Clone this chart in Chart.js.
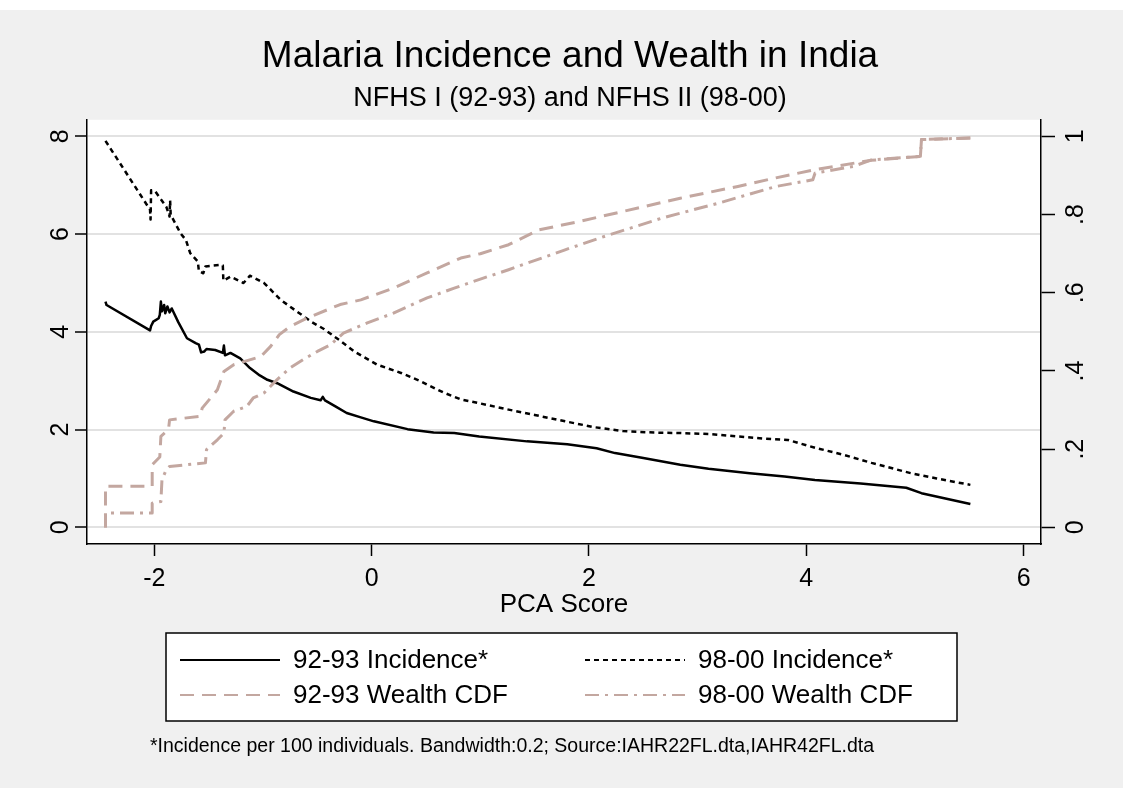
<!DOCTYPE html>
<html>
<head>
<meta charset="utf-8">
<title>Malaria Incidence and Wealth in India</title>
<script src="https://cdn.jsdelivr.net/npm/chart.js@4.4.1/dist/chart.umd.min.js"></script>
<style>
  html, body { margin: 0; padding: 0; background: #fff; }
  #wrap { width: 1123px; height: 788px; position: relative; }
</style>
</head>
<body>
<div id="wrap"><canvas id="malariaChart"></canvas></div>
<script>
// [PCA score, incidence per 100]
const inc9293 = [[-2.45,4.62],[-2.44,4.55],[-2.04,4.03],[-2.03,4.12],[-2.01,4.21],[-1.96,4.28],[-1.95,4.35],
  [-1.94,4.62],[-1.93,4.42],[-1.91,4.55],[-1.90,4.38],[-1.88,4.52],[-1.86,4.40],[-1.84,4.48],[-1.78,4.20],
  [-1.70,3.87],[-1.62,3.77],[-1.59,3.74],[-1.57,3.58],[-1.54,3.60],[-1.52,3.65],[-1.44,3.63],[-1.37,3.57],
  [-1.36,3.72],[-1.35,3.52],[-1.30,3.57],[-1.21,3.46],[-1.12,3.26],[-1.03,3.11],[-0.96,3.02],[-0.87,2.95],
  [-0.72,2.78],[-0.56,2.65],[-0.47,2.60],[-0.45,2.67],[-0.43,2.60],[-0.33,2.47],[-0.23,2.34],[-0.10,2.25],
  [0.02,2.17],[0.33,2.01],[0.57,1.94],[0.76,1.93],[0.99,1.86],[1.43,1.76],[1.80,1.70],[2.07,1.62],[2.24,1.52],
  [2.50,1.42],[2.84,1.28],[3.10,1.20],[3.48,1.11],[3.80,1.04],[4.08,0.97],[4.50,0.90],[4.92,0.81],[5.06,0.70],[5.51,0.48]];

const inc9800 = [[-2.45,7.91],[-2.04,6.50],[-2.035,6.30],[-2.03,6.90],[-1.99,6.87],[-1.89,6.56],[-1.86,6.36],
  [-1.855,6.69],[-1.85,6.40],[-1.76,6.02],[-1.71,5.88],[-1.67,5.61],[-1.60,5.44],[-1.59,5.24],[-1.55,5.20],
  [-1.53,5.34],[-1.40,5.37],[-1.37,5.36],[-1.365,5.05],[-1.30,5.13],[-1.18,5.00],[-1.12,5.15],[-0.99,5.00],
  [-0.84,4.66],[-0.69,4.42],[-0.55,4.20],[-0.44,4.06],[-0.29,3.82],[-0.16,3.60],[0.05,3.33],[0.27,3.16],
  [0.45,2.99],[0.66,2.76],[0.82,2.62],[0.99,2.54],[1.26,2.41],[1.50,2.30],[1.78,2.17],[2.05,2.05],[2.31,1.97],
  [2.60,1.94],[2.84,1.93],[3.10,1.91],[3.37,1.86],[3.60,1.82],[3.83,1.79],[4.08,1.63],[4.35,1.48],[4.60,1.32],
  [4.96,1.11],[5.20,1.00],[5.51,0.87]];

// [PCA score, cumulative share] on the right axis
const cdf9293 = [[-2.45,0],[-2.45,0.105],[-2.02,0.105],[-2.02,0.16],[-1.95,0.18],[-1.94,0.233],[-1.87,0.25],
  [-1.86,0.275],[-1.58,0.284],[-1.56,0.305],[-1.47,0.335],[-1.42,0.352],[-1.36,0.399],[-1.27,0.416],[-1.02,0.437],
  [-0.93,0.463],[-0.85,0.493],[-0.75,0.514],[-0.59,0.536],[-0.29,0.57],[-0.10,0.582],[0.20,0.612],[0.51,0.651],
  [0.82,0.689],[1.00,0.70],[1.26,0.723],[1.54,0.761],[1.92,0.783],[2.31,0.808],[2.84,0.842],[3.37,0.872],
  [3.72,0.894],[4.08,0.915],[4.60,0.939],[5.05,0.949],[5.06,0.992],[5.51,0.996]];

const cdf9800 = [[-2.45,0],[-2.45,0.037],[-2.02,0.037],[-2.02,0.062],[-1.94,0.066],[-1.93,0.122],[-1.89,0.148],
  [-1.86,0.156],[-1.53,0.165],[-1.52,0.199],[-1.42,0.224],[-1.36,0.241],[-1.35,0.275],[-1.27,0.297],[-1.15,0.309],
  [-1.09,0.331],[-0.99,0.344],[-0.87,0.378],[-0.75,0.408],[-0.63,0.429],[-0.50,0.45],[-0.38,0.467],[-0.26,0.497],
  [-0.04,0.523],[0.20,0.548],[0.51,0.587],[0.76,0.612],[1.00,0.635],[1.26,0.659],[1.78,0.710],[2.14,0.744],
  [2.67,0.791],[3.20,0.830],[3.72,0.872],[4.06,0.889],[4.08,0.906],[4.43,0.923],[4.60,0.940],[5.05,0.949],
  [5.06,0.992],[5.51,0.996]];

const seriesLabels = ['92-93 Incidence*', '98-00 Incidence*', '92-93 Wealth CDF', '98-00 Wealth CDF'];
const xTickValues = [-2, 0, 2, 4, 6];
const yTickValues = [0, 2, 4, 6, 8];
const y2TickValues = [0, 0.2, 0.4, 0.6, 0.8, 1];
const y2TickLabels = ['0', '.2', '.4', '.6', '.8', '1'];
const footnote = '*Incidence per 100 individuals. Bandwidth:0.2; Source:IAHR22FL.dta,IAHR42FL.dta';

const FONT = "'Liberation Sans', Arial, Helvetica, sans-serif";
const TAN = '#c3a7a0';

function toPoints(pairs) {
    return pairs.map(p => ({ x: p[0], y: p[1] }));
}

// grey page, white strip at top, white plot region
const backgroundPlugin = {
    id: 'pageBackground',
    beforeDraw(chart) {
        const ctx = chart.ctx;
        const a = chart.chartArea;
        ctx.save();
        ctx.fillStyle = '#f0f0f0';
        ctx.fillRect(0, 0, chart.width, chart.height);
        ctx.fillStyle = '#ffffff';
        ctx.fillRect(0, 0, chart.width, 10);
        ctx.fillRect(a.left, a.top, a.right - a.left, a.bottom - a.top);
        ctx.restore();
    }
};

// boxed two-column legend plus the footnote
const boxLegendPlugin = {
    id: 'boxLegend',
    afterDraw(chart) {
        const ctx = chart.ctx;
        ctx.save();
        ctx.fillStyle = '#ffffff';
        ctx.fillRect(166, 633, 791, 88);
        ctx.strokeStyle = '#000';
        ctx.lineWidth = 1.5;
        ctx.strokeRect(166, 633, 791, 88);

        const slots = [[180, 660], [585, 660], [180, 695], [585, 695]];
        ctx.font = '26px ' + FONT;
        ctx.textBaseline = 'middle';
        ctx.textAlign = 'left';
        chart.data.datasets.forEach((ds, i) => {
            const [sx, sy] = slots[i];
            ctx.beginPath();
            ctx.strokeStyle = ds.borderColor;
            ctx.lineWidth = 2;
            ctx.setLineDash(ds.borderDash || []);
            ctx.moveTo(sx, sy);
            ctx.lineTo(sx + 100, sy);
            ctx.stroke();
            ctx.setLineDash([]);
            ctx.fillStyle = '#000';
            ctx.fillText(ds.label, sx + 113, sy + 1);
        });

        ctx.font = '19.5px ' + FONT;
        ctx.textBaseline = 'alphabetic';
        ctx.fillText(footnote, 150, 752);
        ctx.restore();
    }
};

const ctx = document.getElementById('malariaChart').getContext('2d');
const malariaChart = new Chart(ctx, {
    type: 'line',
    data: {
        datasets: [
            {
                label: seriesLabels[0],
                data: toPoints(inc9293),
                yAxisID: 'y',
                borderColor: '#000000',
                borderWidth: 2.5,
                order: 3
            },
            {
                label: seriesLabels[1],
                data: toPoints(inc9800),
                yAxisID: 'y',
                borderColor: '#000000',
                borderWidth: 2.5,
                borderDash: [5, 4],
                order: 2
            },
            {
                label: seriesLabels[2],
                data: toPoints(cdf9293),
                yAxisID: 'y2',
                borderColor: TAN,
                borderWidth: 3,
                borderDash: [14, 8],
                order: 1
            },
            {
                label: seriesLabels[3],
                data: toPoints(cdf9800),
                yAxisID: 'y2',
                borderColor: TAN,
                borderWidth: 3,
                borderDash: [14, 6, 3, 6],
                order: 0
            }
        ]
    },
    options: {
        responsive: true,
        maintainAspectRatio: false,
        animation: false,
        events: [],
        elements: {
            point: { radius: 0 },
            line: { tension: 0, fill: false, borderCapStyle: 'butt', borderJoinStyle: 'round' }
        },
        layout: {
            padding: { left: 37, right: 20, top: 0, bottom: 164 }
        },
        plugins: {
            legend: { display: false },
            tooltip: { enabled: false },
            title: {
                display: true,
                text: 'Malaria Incidence and Wealth in India',
                color: '#000',
                font: { family: FONT, size: 37, weight: 'normal' },
                padding: { top: 35, bottom: 3 }
            },
            subtitle: {
                display: true,
                text: 'NFHS I (92-93) and NFHS II (98-00)',
                color: '#000',
                font: { family: FONT, size: 27, weight: 'normal' },
                padding: { top: 0, bottom: 5 }
            }
        },
        scales: {
            x: {
                type: 'linear',
                min: -2.62,
                max: 6.16,
                afterBuildTicks: scale => { scale.ticks = xTickValues.map(v => ({ value: v })); },
                afterFit: scale => { scale.height = 80; },
                border: { color: '#000', width: 1.5 },
                grid: { drawOnChartArea: false, drawTicks: true, tickLength: 12, tickColor: '#000', tickWidth: 1.5 },
                ticks: {
                    color: '#000',
                    font: { family: FONT, size: 25 },
                    padding: 8,
                    maxRotation: 0,
                    callback: v => String(v)
                },
                title: {
                    display: true,
                    text: 'PCA Score',
                    color: '#000',
                    font: { family: FONT, size: 26 },
                    padding: { top: 0, bottom: 4 }
                }
            },
            y: {
                type: 'linear',
                position: 'left',
                min: -0.34,
                max: 8.34,
                afterBuildTicks: scale => { scale.ticks = yTickValues.map(v => ({ value: v })); },
                afterFit: scale => { scale.width = 50; },
                border: { color: '#000', width: 1.5 },
                grid: { color: '#e2e2e2', lineWidth: 2, tickLength: 12, tickColor: '#000', tickWidth: 1.5 },
                ticks: {
                    color: '#000',
                    font: { family: FONT, size: 25 },
                    minRotation: 90,
                    maxRotation: 90,
                    crossAlign: 'center',
                    padding: 7,
                    callback: v => String(v)
                }
            },
            y2: {
                type: 'linear',
                position: 'right',
                min: -0.0425,
                max: 1.0425,
                afterBuildTicks: scale => { scale.ticks = y2TickValues.map(v => ({ value: v })); },
                afterFit: scale => { scale.width = 62; },
                border: { color: '#000', width: 1.5 },
                grid: { drawOnChartArea: false, tickLength: 14, tickColor: '#000', tickWidth: 1.5 },
                ticks: {
                    color: '#000',
                    font: { family: FONT, size: 25 },
                    minRotation: 90,
                    maxRotation: 90,
                    crossAlign: 'center',
                    padding: 11,
                    callback: v => y2TickLabels[y2TickValues.indexOf(v)]
                }
            }
        }
    },
    plugins: [backgroundPlugin, boxLegendPlugin]
});
</script>
</body>
</html>
